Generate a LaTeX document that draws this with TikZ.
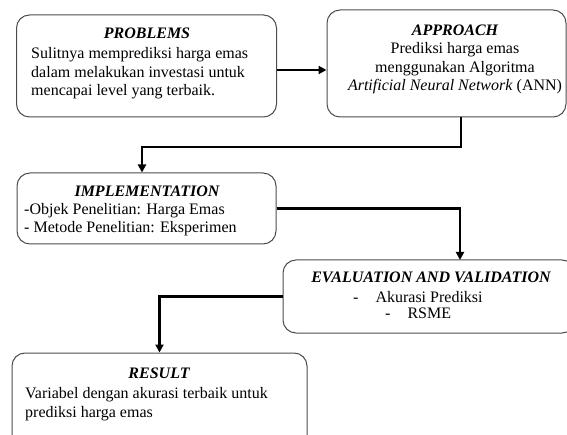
\documentclass[tikz,border=0pt]{standalone}
\usepackage{fontspec}
\setmainfont{Liberation Serif}
\usetikzlibrary{arrows.meta,calc}
\begin{document}
\begin{tikzpicture}[x=1pt,y=-1pt,
  box/.style={draw=black!70,line width=1pt,rounded corners=13pt,inner sep=0pt},
  ttl/.style={font=\fontsize{16}{19}\selectfont\bfseries\itshape,inner sep=0pt,anchor=base},
  txt/.style={font=\fontsize{16}{19}\selectfont,inner sep=0pt,anchor=base west},
  ctx/.style={font=\fontsize{16}{19}\selectfont,inner sep=0pt,anchor=base},
  arr/.style={line width=2.2pt,-{Triangle[width=8pt,length=8pt]}}]
\useasboundingbox (0,0) rectangle (567,435);
% boxes
\node[box,minimum width=260pt,minimum height=102pt] (p) at (146.5,66) {};
\node[box,minimum width=239pt,minimum height=107pt] (a) at (446.5,63.5) {};
\node[box,minimum width=259pt,minimum height=71pt] (i) at (146.5,208.5) {};
\node[box,minimum width=292pt,minimum height=73pt] (e) at (429,296.5) {};
\node[box,minimum width=295pt,minimum height=98pt] (r) at (159.5,402) {};
% texts
\node[ttl] (pt) at (147,39) {PROBLEMS};
\node[txt] (p1) at (31,59) {Sulitnya memprediksi harga emas};
\node[txt] (p2) at (31,78) {dalam melakukan investasi untuk};
\node[txt] (p3) at (31,96) {mencapai level yang terbaik.};
\node[ttl] (at) at (455,36) {APPROACH};
\node[ctx] (a1) at (455,54) {Prediksi harga emas};
\node[ctx] (a2) at (455,73) {menggunakan Algoritma};
\node[ctx] (a3) at (455,91) {\textit{Artificial Neural Network} (ANN)};
\node[ttl] (it) at (147,197) {IMPLEMENTATION};
\node[txt] (i1) at (24,215) {-Objek Penelitian: Harga Emas};
\node[txt] (i2) at (24,233) {- Metode Penelitian: Eksperimen};
\node[ttl] (et) at (431,283) {EVALUATION AND VALIDATION};
\node[txt] (e1) at (353,302) {-\hspace{17pt}Akurasi Prediksi};
\node[txt] (e2) at (385,319) {-\hspace{17pt}RSME};
\node[ttl] (rt) at (159,378) {RESULT};
\node[txt] (r1) at (25,398) {Variabel dengan akurasi terbaik untuk};
\node[txt] (r2) at (25,417) {prediksi harga emas};
% connectors
\coordinate (k0) at (300,70);
\coordinate (k1) at (461,147);
\coordinate (k2) at (460,260);
\draw[arr] (p.east |- k0) -- (a.west |- k0);
\draw[arr] (k1 |- a.south) -- (k1) -| (i.north -| 142,0);
\draw[arr] (i.east) -| (k2);
\draw[arr] (e.west) -| (r.north);
\end{tikzpicture}
\end{document}
